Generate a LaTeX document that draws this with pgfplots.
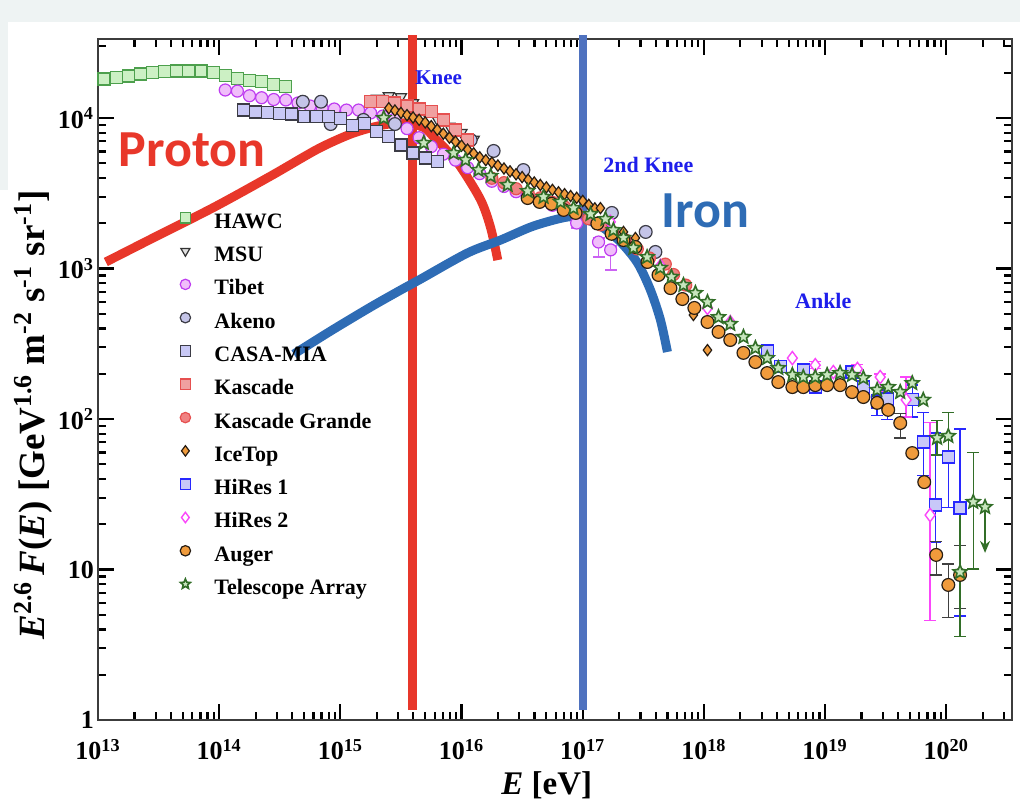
\documentclass[border=0pt]{standalone}
\usepackage{fontspec}
\setmainfont{Liberation Serif}
\newfontfamily\calibri{Carlito}
\usepackage{pgfplots}
\pgfplotsset{compat=1.18}
\usetikzlibrary{arrows.meta,plotmarks}

\definecolor{hawcF}{RGB}{204,240,196}\definecolor{hawcD}{RGB}{77,160,77}
\definecolor{tibF}{RGB}{240,190,250}\definecolor{tibD}{RGB}{190,60,240}
\definecolor{akF}{RGB}{196,196,232}\definecolor{akD}{RGB}{60,60,70}
\definecolor{caF}{RGB}{200,200,245}
\definecolor{kaF}{RGB}{240,160,160}\definecolor{kaD}{RGB}{230,80,80}
\definecolor{kgF}{RGB}{240,130,130}
\definecolor{orF}{RGB}{240,155,60}\definecolor{orD}{RGB}{40,30,20}
\definecolor{hrF}{RGB}{200,200,248}\definecolor{hrD}{RGB}{40,40,255}
\definecolor{h2D}{RGB}{250,70,250}
\definecolor{taF}{RGB}{200,230,190}\definecolor{taD}{RGB}{50,110,40}
\definecolor{protred}{RGB}{232,55,42}
\definecolor{ironblue}{RGB}{46,108,181}
\definecolor{vblue}{RGB}{79,114,191}
\definecolor{annblue}{RGB}{30,30,235}
\definecolor{bgpale}{RGB}{238,243,243}
\definecolor{axgray}{RGB}{60,60,60}

\pgfdeclareplotmark{fstar}{%
 \pgfpathmoveto{\pgfpoint{0pt}{\pgfplotmarksize}}%
 \pgfpathlineto{\pgfpoint{-0.265\pgfplotmarksize}{0.364\pgfplotmarksize}}%
 \pgfpathlineto{\pgfpoint{-0.951\pgfplotmarksize}{0.309\pgfplotmarksize}}%
 \pgfpathlineto{\pgfpoint{-0.428\pgfplotmarksize}{-0.139\pgfplotmarksize}}%
 \pgfpathlineto{\pgfpoint{-0.588\pgfplotmarksize}{-0.809\pgfplotmarksize}}%
 \pgfpathlineto{\pgfpoint{0pt}{-0.45\pgfplotmarksize}}%
 \pgfpathlineto{\pgfpoint{0.588\pgfplotmarksize}{-0.809\pgfplotmarksize}}%
 \pgfpathlineto{\pgfpoint{0.428\pgfplotmarksize}{-0.139\pgfplotmarksize}}%
 \pgfpathlineto{\pgfpoint{0.951\pgfplotmarksize}{0.309\pgfplotmarksize}}%
 \pgfpathlineto{\pgfpoint{0.265\pgfplotmarksize}{0.364\pgfplotmarksize}}%
 \pgfpathclose
 \pgfusepathqfillstroke}

\pgfplotsset{
 leg/.style={only marks, legend image code/.code={\path[draw=none,fill=none] (-3pt,0pt) -- (14pt,0pt); \draw[##1,mark size=2.6pt] plot coordinates {(0pt,2.5pt)};}},
 sHAWC/.style={leg, mark=square*, mark size=3pt, mark options={solid,fill=hawcF,draw=hawcD,line width=0.6pt}},
 sMSU/.style={leg, mark=triangle*, mark size=3.2pt, mark options={solid,rotate=180,fill=black!12,draw=black!80,line width=0.6pt}},
 sTib/.style={leg, mark=*, mark size=3pt, mark options={solid,fill=tibF,draw=tibD,line width=0.6pt}},
 sAk/.style={leg, mark=*, mark size=3.2pt, mark options={solid,fill=akF,draw=akD,line width=0.6pt}},
 sCA/.style={leg, mark=square*, mark size=3pt, mark options={solid,fill=caF,draw=akD,line width=0.6pt}},
 sKa/.style={leg, mark=square*, mark size=3pt, mark options={solid,fill=kaF,draw=kaD,line width=0.6pt}},
 sKG/.style={leg, mark=*, mark size=3pt, mark options={solid,fill=kgF,draw=kaD,line width=0.6pt}},
 sIT/.style={leg, mark=diamond*, mark size=3pt, mark options={solid,fill=orF,draw=orD,line width=0.6pt}},
 sH1/.style={leg, mark=square*, mark size=3pt, mark options={solid,fill=hrF,draw=hrD,line width=0.6pt}},
 sH2/.style={leg, mark=diamond*, mark size=3.3pt, mark options={solid,fill=white,draw=h2D,line width=0.7pt}},
 sAu/.style={leg, mark=*, mark size=3.2pt, mark options={solid,fill=orF,draw=orD,line width=0.6pt}},
 sTA/.style={leg, mark=fstar, mark size=3.6pt, mark options={solid,fill=taF,draw=taD,line width=0.8pt}},
 ebar/.style={error bars/.cd, y dir=both, y explicit, error bar style={draw=#1, line width=0.7pt}, error mark options={draw=#1, line width=0.7pt, mark size=3pt, rotate=90}},
}

\begin{document}
\begin{tikzpicture}
\useasboundingbox (-49pt,-42.5pt) rectangle (461pt,360pt);
\fill[bgpale] (-49pt,349pt) rectangle (461pt,360pt);
\fill[bgpale] (-49pt,265pt) rectangle (-45pt,360pt);
\begin{axis}[
 xmode=log, ymode=log,
 scale only axis, width=457pt, height=340.5pt,
 xmin=1e13, xmax=3.49e20, ymin=1, ymax=3.35e4,
 xtick={1e13,1e14,1e15,1e16,1e17,1e18,1e19,1e20},
 ytick={1,10,100,1000,10000},
 minor xtick={2e13,3e13,4e13,5e13,6e13,7e13,8e13,9e13,2e14,3e14,4e14,5e14,6e14,7e14,8e14,9e14,2e15,3e15,4e15,5e15,6e15,7e15,8e15,9e15,2e16,3e16,4e16,5e16,6e16,7e16,8e16,9e16,2e17,3e17,4e17,5e17,6e17,7e17,8e17,9e17,2e18,3e18,4e18,5e18,6e18,7e18,8e18,9e18,2e19,3e19,4e19,5e19,6e19,7e19,8e19,9e19,2e20,3e20},
 minor ytick={2,3,4,5,6,7,8,9,20,30,40,50,60,70,80,90,200,300,400,500,600,700,800,900,2000,3000,4000,5000,6000,7000,8000,9000,20000,30000},
 xticklabels={10\textsuperscript{13},10\textsuperscript{14},10\textsuperscript{15},10\textsuperscript{16},10\textsuperscript{17},10\textsuperscript{18},10\textsuperscript{19},10\textsuperscript{20}},
 yticklabels={1,10,10\textsuperscript{2},10\textsuperscript{3},10\textsuperscript{4}},
 ticklabel style={font=\bfseries\fontsize{13}{14}\selectfont},
 xticklabel style={yshift=-6pt},
 yticklabel style={xshift=1.5pt},
 tick align=inside,
 major tick length=8pt, minor tick length=4pt,
 tick style={black, line width=1.1pt},
 axis line style={draw=axgray, line width=0.8pt},
 clip=false,
 xlabel={\textit{E} [eV]},
 ylabel={\textit{E}\textsuperscript{2.6}\,\textit{F}(\textit{E}) [GeV\textsuperscript{1.6} m\textsuperscript{-2} s\textsuperscript{-1} sr\textsuperscript{-1}]},
 xlabel style={font=\bfseries\fontsize{16.5}{18}\selectfont, at={(axis description cs:0.491,-0.0955)}, anchor=center},
 ylabel style={font=\bfseries\fontsize{18.5}{20}\selectfont, at={(axis description cs:-0.071,0.448)}, anchor=center},
 legend style={at={(axis description cs:0.0886,0.7476)}, anchor=north west, draw=none, fill=none,
   font=\bfseries\fontsize{11}{12}\selectfont, row sep=5.15pt, inner sep=0pt,
   nodes={inner sep=0.5pt, text height=8pt, text depth=2.5pt}},
 legend cell align=left,
]

% HAWC
\addplot[sHAWC] coordinates {(1.122e13,18160) (1.413e13,18530) (1.778e13,19010) (2.239e13,19590) (2.818e13,20090) (3.548e13,20320) (4.467e13,20510) (5.623e13,20510) (7.079e13,20510) (8.913e13,20090) (1.122e14,19100) (1.413e14,18370) (1.778e14,17860) (2.239e14,17420) (2.818e14,16750) (3.548e14,16140)};
\addlegendentry{HAWC}
% MSU
\addplot[sMSU] coordinates {(2.0e15,13500) (2.51e15,14000) (3.16e15,13800) (3.98e15,12600) (5.01e15,11000) (6.31e15,9800) (7.94e15,8800) (1.0e16,8000) (1.26e16,7200)};
\addlegendentry{MSU}
% Tibet
\addplot[sTib] coordinates {(1.122e14,15350) (1.413e14,15100) (1.778e14,14060) (2.239e14,13640) (2.818e14,13270) (3.548e14,13180) (4.467e14,12580) (5.623e14,12020) (7.079e14,11650) (8.913e14,11480) (1.122e15,11300) (1.413e15,11300) (1.778e15,10800) (2.239e15,10310) (2.818e15,9840) (3.548e15,8500) (4.467e15,7400) (5.623e15,6460) (7.079e15,5750) (8.913e15,5250) (1.122e16,4680) (1.413e16,4270) (1.778e16,3800) (2.239e16,3510) (2.818e16,3240) (3.548e16,3020) (4.467e16,2820) (5.623e16,2630) (7.079e16,2450)};
\addlegendentry{Tibet}
\addplot[sTib, forget plot, ebar=tibD!80]
 table[x=x, y=y, y error plus=ep, y error minus=em, row sep=\\] {x y ep em\\ 8.91e16 2005 330 150\\ 1.35e17 1500 100 310\\ 1.70e17 1330 80 350\\};
% Akeno
\addplot[sAk] coordinates {(4.90e14,12830) (6.92e14,12830) (8.32e14,9120) (1.55e15,9710) (2.82e15,9120) (1.19e16,7140) (1.84e16,6040) (3.24e16,4510) (1.74e17,2340) (3.31e17,1750) (3.98e17,1288)};
\addlegendentry{Akeno}
% CASA-MIA
\addplot[sCA] coordinates {(1.585e14,11300) (1.995e14,10960) (2.512e14,10890) (3.162e14,10720) (3.981e14,10640) (5.012e14,10230) (6.310e14,10210) (7.943e14,10210) (1.0e15,9950) (1.259e15,8970) (1.585e15,9230) (1.995e15,8110) (2.512e15,7520) (3.162e15,6620) (3.981e15,5850) (5.012e15,5420) (6.310e15,5130)};
\addlegendentry{CASA-MIA}
% Kascade
\addplot[sKa] coordinates {(1.778e15,12830) (2.239e15,12830) (2.818e15,12590) (3.548e15,12020) (4.467e15,11480) (5.623e15,11020) (7.079e15,9700) (8.913e15,8320) (1.122e16,7140)};
\addlegendentry{Kascade}
% Kascade Grande
\addplot[sKG] coordinates {(1.78e16,3980) (2.24e16,3720) (2.82e16,3390) (3.55e16,3160) (4.47e16,2950) (5.62e16,2750) (7.08e16,2570) (8.91e16,2340) (1.12e17,2140) (1.41e17,1950) (1.78e17,1740) (2.24e17,1550) (2.82e17,1350) (3.55e17,1175) (4.80e17,1070) (5.62e17,912) (7.08e17,776)};
\addlegendentry{Kascade Grande}
% IceTop
\addplot[sIT, mark size=2.8pt] coordinates {(2.512e15,11610) (2.818e15,11220) (3.162e15,10810) (3.548e15,10450) (3.981e15,10090) (4.467e15,9730) (5.012e15,9350) (5.623e15,8830) (6.310e15,8360) (7.079e15,7870) (7.943e15,7400) (8.913e15,6970) (1.000e16,6550) (1.122e16,6170) (1.259e16,5820) (1.413e16,5480) (1.585e16,5250) (1.778e16,5050) (1.995e16,4830) (2.239e16,4620) (2.512e16,4420) (2.818e16,4230) (3.162e16,4050) (3.548e16,3890) (3.981e16,3730) (4.467e16,3590) (5.012e16,3460) (5.623e16,3330) (6.310e16,3210) (7.079e16,3120) (7.943e16,3030) (8.913e16,2950) (1.000e17,2810) (1.122e17,2650) (1.259e17,2510) (1.40e17,2520) (2.17e17,1750) (2.72e17,1595) (8.19e17,491) (1.07e18,287)};
\addlegendentry{IceTop}
% HiRes 1
\addplot[sH1] coordinates {(3.33e18,283) (4.28e18,222) (6.61e18,212) (8.30e18,163) (1.67e19,205) (2.07e19,163)};
\addlegendentry{HiRes 1}
\addplot[sH1, forget plot, ebar=hrD]
 table[x=x, y=y, y error plus=ep, y error minus=em, row sep=\\] {x y ep em\\ 2.69e19 128 16 22\\ 3.26e19 136 20 37\\ 5.24e19 134 34 31\\ 6.46e19 70.3 40 28\\ 8.11e19 26.8 54 11.6\\ 1.04e20 55.9 55 30\\ 1.30e20 25.6 60 20.7\\};
% HiRes 2
\addplot[sH2] coordinates {(1.69e17,2040) (4.38e17,1040) (1.07e18,547) (1.65e18,441) (5.37e18,254) (1.17e19,205)};
\addlegendentry{HiRes 2}
\addplot[sH2, forget plot, ebar=h2D]
 table[x=x, y=y, y error plus=ep, y error minus=em, row sep=\\] {x y ep em\\ 8.30e18 228 12 12\\ 1.85e19 215 15 15\\ 2.85e19 190 9 39\\ 4.67e19 134 56 31\\ 7.36e19 23.0 72 18.4\\};
% Auger
\addplot[sAu] coordinates {(3.51e16,2940) (4.41e16,2770) (5.53e16,2690) (6.95e16,2450) (8.73e16,2340) (1.32e17,1990) (1.73e17,1700) (2.17e17,1545) (2.72e17,1390) (3.42e17,1105) (4.22e17,906) (5.30e17,741) (6.64e17,627) (8.34e17,547) (1.07e18,441) (1.32e18,379) (1.65e18,335) (2.12e18,275) (2.66e18,239) (3.33e18,202) (4.11e18,176) (5.37e18,163) (6.61e18,163) (8.30e18,168) (1.04e19,168) (1.33e19,168) (1.67e19,151) (2.07e19,140) (2.69e19,128) (3.32e19,115) (5.24e19,59.4) (6.58e19,38.1)};
\addlegendentry{Auger}
\addplot[sAu, forget plot, ebar=black!75]
 table[x=x, y=y, y error plus=ep, y error minus=em, row sep=\\] {x y ep em\\ 4.17e19 94.0 15 19\\ 8.26e19 12.5 2.8 3.3\\ 1.04e20 7.9 3.0 3.1\\ 1.30e20 9.2 5.3 3.7\\};
% Telescope Array
\addplot[sTA] coordinates {(2.28e15,10000) (4.88e15,6820) (8.61e15,5850) (1.08e16,5260) (1.38e16,4510) (1.74e16,4120) (2.40e16,3590) (3.51e16,3270) (4.75e16,2990) (6.56e16,2770) (8.39e16,2520) (1.16e17,2300) (1.54e17,2130) (1.79e17,1800) (2.17e17,1600) (2.62e17,1370) (3.40e17,1190) (4.36e17,1010) (5.40e17,880) (6.78e17,776) (8.51e17,687) (1.07e18,598) (1.32e18,475) (1.65e18,428) (2.12e18,351) (2.66e18,296) (3.33e18,254) (4.11e18,218) (5.37e18,196) (6.61e18,190) (8.30e18,190) (1.04e19,196) (1.33e19,202) (1.67e19,196) (2.07e19,187) (2.69e19,156) (3.32e19,163) (4.17e19,151) (5.24e19,173) (6.46e19,134)};
\addlegendentry{Telescope Array}
\addplot[sTA, forget plot, ebar=taD]
 table[x=x, y=y, y error plus=ep, y error minus=em, row sep=\\] {x y ep em\\ 8.41e19 74.8 23 17\\ 1.04e20 77.1 33 18\\ 1.30e20 9.6 18 6\\ 1.67e20 28.1 32 18\\};
\addplot[forget plot, draw=taD, line width=0.8pt, -{Stealth[length=6pt,width=5pt]}] coordinates {(2.09e20,26) (2.09e20,12.9)};
\addplot[sTA, forget plot] coordinates {(2.09e20,26)};

% vertical lines
\addplot[forget plot, draw=protred, line width=4.5pt] coordinates {(3.96e15,1.165) (3.96e15,35600)};
\addplot[forget plot, draw=vblue, line width=4pt] coordinates {(1e17,1.165) (1e17,35600)};
% Proton curve
\addplot[forget plot, smooth, draw=protred, line width=4.5pt] coordinates {(1.16e13,1105) (3.0e13,1630) (9.2e13,2570) (2.71e14,4150) (6.50e14,6220) (1.19e15,7770) (1.88e15,8710) (2.59e15,9150) (3.43e15,9260) (4.88e15,8650) (5.89e15,7480) (7.54e15,6120) (9.84e15,4720) (1.44e16,2850) (1.74e16,1860) (1.99e16,1138)};
% Iron curve
\addplot[forget plot, smooth, draw=ironblue, line width=4.5pt] coordinates {(4.13e14,270) (8.34e14,385) (1.78e15,555) (3.15e15,720) (4.60e15,851) (1.12e16,1268) (2.10e16,1546) (3.93e16,1916) (7.50e16,2200) (1.05e17,2130) (1.48e17,1860) (2.05e17,1500) (2.83e17,1090) (3.62e17,720) (4.38e17,455) (5.00e17,279)};

% annotations
\node[text=protred, font=\calibri\bfseries\fontsize{26}{28}\selectfont] at (axis cs:5.96e13,6125) {Proton};
\node[text=ironblue, font=\calibri\bfseries\fontsize{26}{28}\selectfont] at (axis cs:1.03e18,2410) {Iron};
\node[text=annblue, font=\bfseries\fontsize{10.5}{12}\selectfont] at (axis cs:6.47e15,18450) {Knee};
\node[text=annblue, font=\bfseries\fontsize{11}{12}\selectfont] at (axis cs:3.48e17,4875) {2nd Knee};
\node[text=annblue, font=\bfseries\fontsize{11}{12}\selectfont] at (axis cs:9.66e18,608) {Ankle};
\end{axis}
\end{tikzpicture}
\end{document}
